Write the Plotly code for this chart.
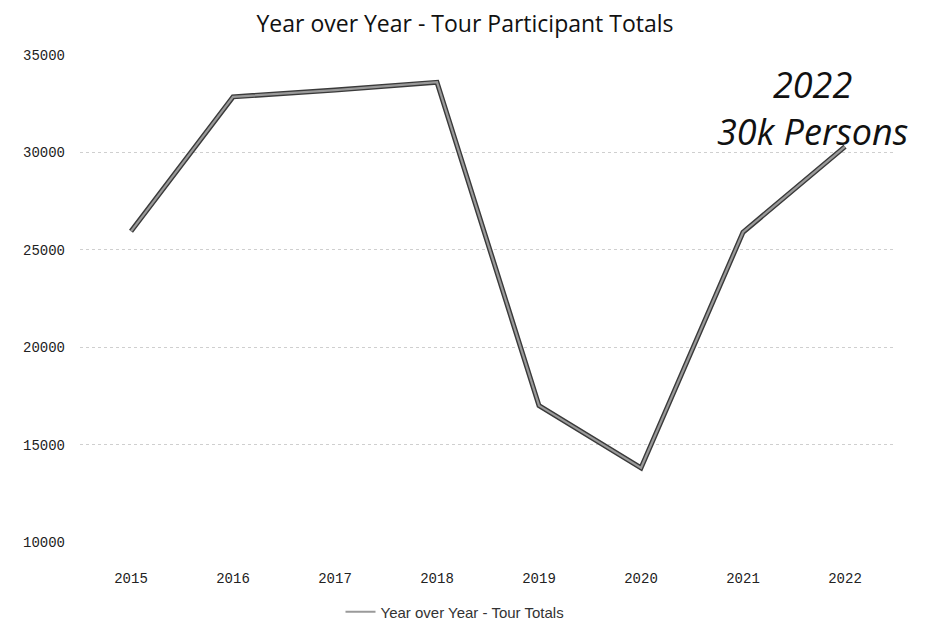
import plotly.graph_objects as go

years = ["2015", "2016", "2017", "2018", "2019", "2020", "2021", "2022"]
tour_totals = [25950, 32850, 33200, 33600, 17000, 13800, 25900, 30300]
y_ticks = [10000, 15000, 20000, 25000, 30000, 35000]
y_tick_text = ["10000", "15000", "20000", "25000", "30000", "35000"]
title_text = "Year over Year - Tour Participant Totals"
series_name = "Year over Year - Tour Totals"
note_year = "2022"
note_text = "30k Persons"

# page body adds an 8px offset; the figure is sized to fit the window
OFF = 8
W, H = 928 - OFF, 626 - OFF
PL, PT = 80 - OFF, 55 - OFF
PR = W - (896 - OFF)
PB = H - (542 - OFF)
PW = W - PL - PR
PH = H - PT - PB


def px(xs):
    return (xs - OFF - PL) / PW


def py(ys):
    return (PT + PH - (ys - OFF)) / PH


fig = go.Figure()
# dark outline of the line (scanned look)
fig.add_trace(go.Scatter(x=years, y=tour_totals, mode="lines",
                         line=dict(color="#3a3a3a", width=5),
                         showlegend=False, hoverinfo="skip"))
fig.add_trace(go.Scatter(x=years, y=tour_totals, mode="lines",
                         name=series_name,
                         line=dict(color="#9a9a9a", width=2.2)))

fig.add_annotation(text="<i>" + note_year + "<br>" + note_text + "</i>",
                   xref="paper", yref="paper", align="center",
                   x=px(812), y=py(108), xanchor="center",
                   yanchor="middle", showarrow=False,
                   font=dict(family="Open Sans", size=36, color="#111"))

# faint dotted border at right edge of the scanned page
fig.add_shape(type="line", xref="paper", yref="paper",
              x0=px(921), x1=px(921), y0=py(626), y1=py(0),
              line=dict(color="#bbbbbb", width=1, dash="dot"))

fig.update_layout(
    width=W, height=H,
    paper_bgcolor="white", plot_bgcolor="white",
    margin=dict(l=PL, r=PR, t=PT, b=PB, autoexpand=False),
    title=dict(text=title_text, x=(465 - OFF) / W, xanchor="center",
               y=1 - (24 - OFF) / H, yanchor="middle",
               font=dict(family="Open Sans", size=23, color="#111")),
    xaxis=dict(type="category", range=[-0.5, 7.5], showgrid=False,
               zeroline=False, showline=False, automargin=False,
               ticks="", ticklabelstandoff=26,
               tickfont=dict(family="Liberation Mono", size=14, color="#222")),
    yaxis=dict(range=[10000, 35000], tickvals=y_ticks, ticktext=y_tick_text,
               showgrid=True, gridcolor="#cfcfcf", griddash="dot", gridwidth=1,
               zeroline=False, showline=False, ticks="", ticklabelstandoff=14,
               automargin=False,
               tickfont=dict(family="Liberation Mono", size=14, color="#222")),
    legend=dict(orientation="h", x=px(455), xanchor="center",
                y=py(612), yanchor="middle",
                font=dict(family="Liberation Sans", size=15, color="#333")),
    showlegend=True,
)

fig.write_html("out.html")
